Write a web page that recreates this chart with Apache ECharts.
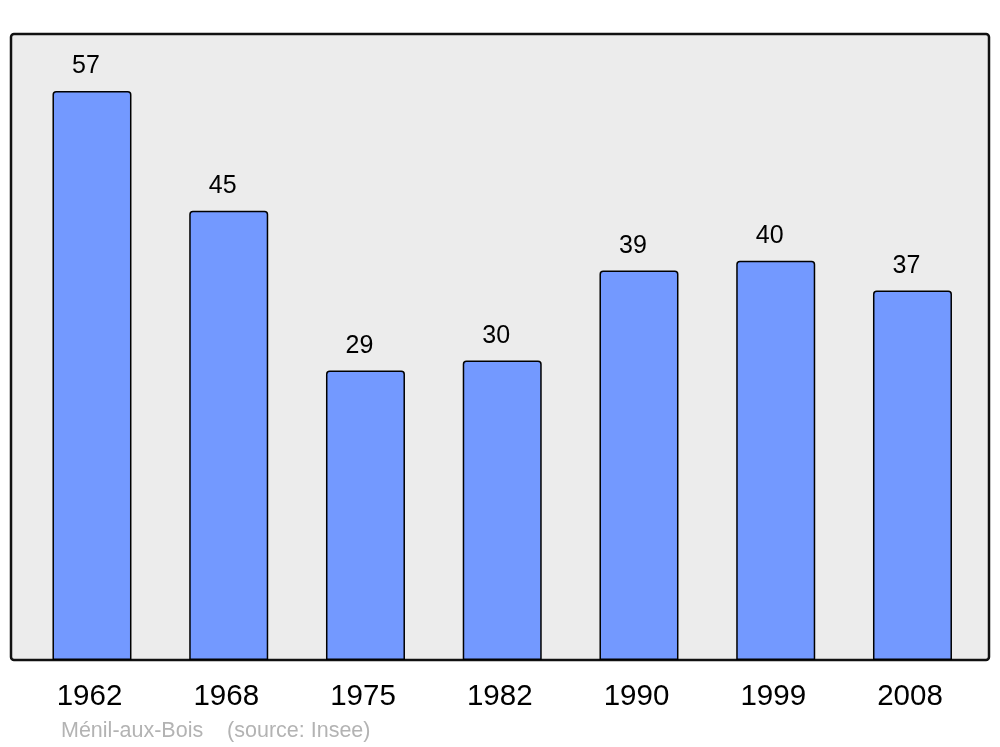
<!DOCTYPE html>
<html>
<head>
<meta charset="utf-8">
<script src="https://cdn.jsdelivr.net/npm/echarts@6/dist/echarts.min.js"></script>
<style>
html,body{margin:0;padding:0;background:#fff;}
#c{width:1000px;height:747px;}
</style>
</head>
<body>
<div id="c"></div>
<script>
const years = ['1962', '1968', '1975', '1982', '1990', '1999', '2008'];
const population = [57, 45, 29, 30, 39, 40, 37];
const sourceText = 'Ménil-aux-Bois    (source: Insee)';

const chart = echarts.init(document.getElementById('c'), null, {renderer: 'canvas'});
chart.setOption({
  animation: false,
  backgroundColor: '#ffffff',
  title: {
    text: sourceText,
    left: 61,
    top: 720,
    padding: 0,
    textStyle: {
      color: '#b3b3b3',
      fontSize: 21.5,
      fontWeight: 'normal',
      fontFamily: 'Liberation Sans, Arial, sans-serif'
    }
  },
  graphic: [{
    type: 'rect',
    z: -10,
    silent: true,
    shape: {x: 11, y: 34, width: 978, height: 626, r: 3},
    style: {fill: '#ececec', stroke: '#111111', lineWidth: 2.5}
  }],
  grid: {left: 23.6, right: 19.15, top: 34, bottom: 87, containLabel: false},
  xAxis: {
    type: 'category',
    data: years,
    boundaryGap: true,
    axisLine: {show: false},
    axisTick: {show: false},
    axisLabel: {
      margin: 22,
      padding: [0, 5, 0, 0],
      color: '#000',
      fontSize: 29.5,
      fontFamily: 'Liberation Sans, Arial, sans-serif'
    }
  },
  yAxis: {
    type: 'value',
    min: 0,
    max: 62.7,
    show: false,
    splitLine: {show: false}
  },
  series: [{
    type: 'bar',
    data: population,
    barWidth: 79,
    z: 3,
    itemStyle: {
      color: '#7399ff',
      borderColor: '#000',
      borderWidth: 1.5,
      borderRadius: [3, 3, 0, 0]
    },
    label: {
      show: true,
      position: 'top',
      distance: 12,
      offset: [-6, 0],
      color: '#000',
      fontSize: 25,
      fontFamily: 'Liberation Sans, Arial, sans-serif'
    }
  }]
});
</script>
</body>
</html>
